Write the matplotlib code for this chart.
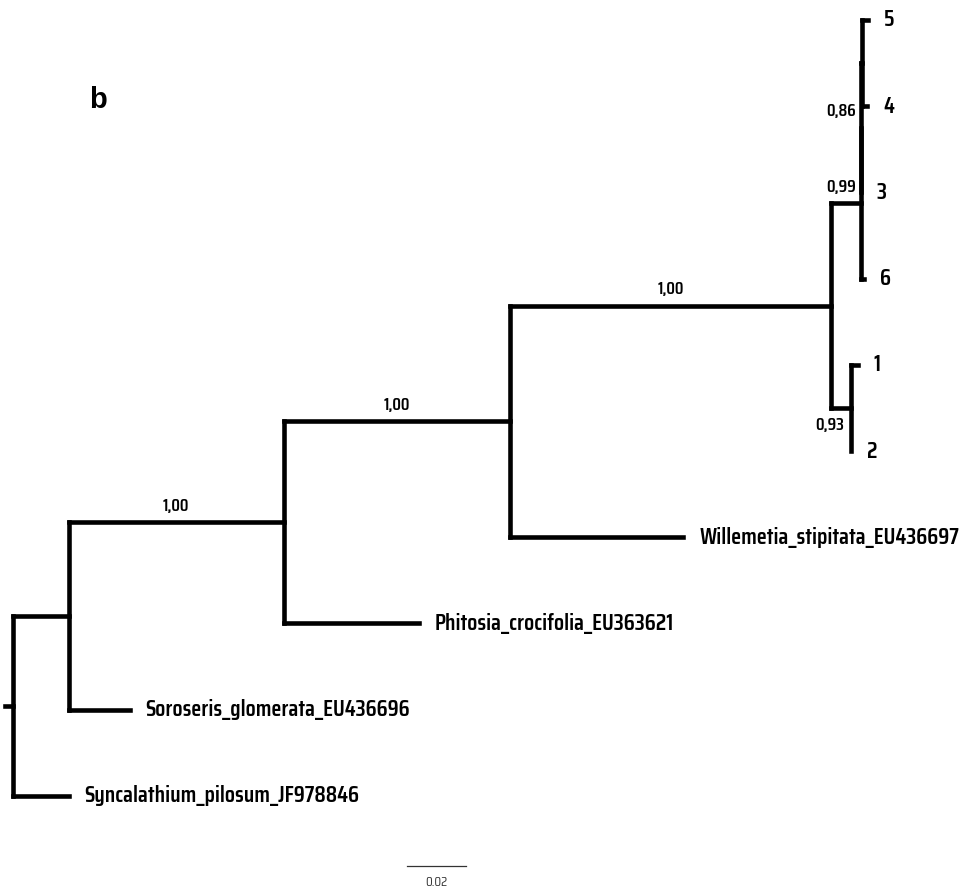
import matplotlib
matplotlib.use("Agg")
import matplotlib.pyplot as plt
from matplotlib import font_manager

# ---- data: tree topology with branch lengths (substitutions/site) ----
nodes = {
    "root": (None, 0.0),
    "A": ("root", 0.0190),
    "Syncalathium_pilosum_JF978846": ("root", 0.0190),
    "B": ("A", 0.0729),
    "Soroseris_glomerata_EU436696": ("A", 0.0207),
    "C": ("B", 0.0769),
    "Phitosia_crocifolia_EU363621": ("B", 0.0458),
    "D": ("C", 0.1085),
    "Willemetia_stipitata_EU436697": ("C", 0.0586),
    "E": ("D", 0.0102),
    "H": ("D", 0.0068),
    "G": ("E", 0.0),
    "6": ("E", 0.0013),
    "F": ("G", 0.0004),
    "3": ("G", 0.0),
    "5": ("F", 0.0020),
    "4": ("F", 0.0018),
    "1": ("H", 0.0024),
    "2": ("H", 0.0003),
}
leaf_order = ["5", "4", "3", "6", "1", "2",
              "Willemetia_stipitata_EU436697", "Phitosia_crocifolia_EU363621",
              "Soroseris_glomerata_EU436696", "Syncalathium_pilosum_JF978846"]
support = {"C": "1,00", "D": "1,00", "B": "1,00", "E": "0,99", "G": "0,86", "H": "0,93"}
scale_bar = 0.02

# ---- layout ----
children = {}
for n, (p, bl) in nodes.items():
    if p is not None:
        children.setdefault(p, []).append(n)

xpos = {}
def set_x(n, x):
    xpos[n] = x
    for c in children.get(n, []):
        set_x(c, x + nodes[c][1])
set_x("root", 0.0)

ypos = {leaf: i for i, leaf in enumerate(leaf_order)}
def set_y(n):
    if n in ypos:
        return ypos[n]
    ys = [set_y(c) for c in children[n]]
    ypos[n] = (min(ys) + max(ys)) / 2
    return ypos[n]
set_y("root")

# fonts
avail = {f.name for f in font_manager.fontManager.ttflist}
cond = "DejaVu Sans"
for cand in ["Saira Extra Condensed", "Saira Condensed", "Barlow Condensed",
             "Roboto Condensed", "Oswald"]:
    if cand in avail:
        cond = cand
        break

W, H = 969, 892
fig = plt.figure(figsize=(W / 100, H / 100), dpi=100)
ax = fig.add_axes([0, 0, 1, 1])
pxu = 2950.0
x0 = 12.5
ax.set_xlim(-x0 / pxu, (W - x0) / pxu)
y_step, y_top = 86.2, 20.0
ax.set_ylim((H - y_top) / y_step, -y_top / y_step)
ax.axis("off")

lw = 3.3
for n, (p, bl) in nodes.items():
    if p is None:
        continue
    ax.plot([xpos[p], xpos[n]], [ypos[n], ypos[n]], color="black", lw=lw,
            solid_capstyle="projecting")
for n, ch in children.items():
    ys = [ypos[c] for c in ch]
    ax.plot([xpos[n], xpos[n]], [min(ys), max(ys)], color="black", lw=lw,
            solid_capstyle="projecting")
ax.plot([xpos["root"] - 8 / pxu, xpos["root"]], [ypos["root"]] * 2, color="black", lw=lw)

for leaf in leaf_order:
    ax.annotate(leaf, (xpos[leaf], ypos[leaf]), xytext=(11.5, 0), textcoords="offset points",
                ha="left", va="center", fontsize=16.8, fontweight="semibold", family=cond)

for n, s in support.items():
    p = nodes[n][0]
    if s == "1,00":
        ax.annotate(s, ((xpos[p] + xpos[n]) / 2, ypos[n]), xytext=(0, 12),
                    textcoords="offset points", ha="center", va="center",
                    fontsize=13, family=cond, fontweight="semibold")
    elif n == "H":
        ax.annotate(s, (xpos[n], ypos[n]), xytext=(-5, -12), textcoords="offset points",
                    ha="right", va="center", fontsize=13, family=cond, fontweight="semibold")
    else:
        ax.annotate(s, (xpos[n], ypos[n]), xytext=(-3, 12), textcoords="offset points",
                    ha="right", va="center", fontsize=13, family=cond, fontweight="semibold")

sb_x = (407 - x0) / pxu
sb_y = (866 - y_top) / y_step
ax.plot([sb_x, sb_x + scale_bar], [sb_y, sb_y], color="#333333", lw=0.9)
ax.annotate(f"{scale_bar:.2f}", (sb_x + scale_bar / 2, sb_y), xytext=(0, -12),
            textcoords="offset points", ha="center", va="center", fontsize=10,
            family=cond, color="#333333")

fig.text(98 / W, 1 - 100 / H, "b", fontsize=21, fontweight="bold",
         family="Liberation Sans", ha="center", va="center")

fig.savefig("out.png", dpi=100)
